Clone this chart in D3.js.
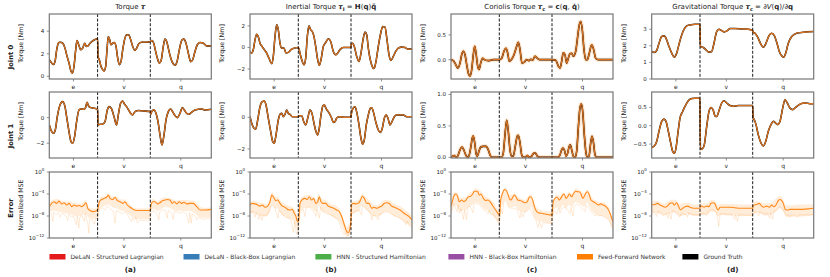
<!DOCTYPE html>
<html>
<head>
<meta charset="utf-8">
<script src="https://cdn.jsdelivr.net/npm/d3@7"></script>
<style>
  body { margin: 0; background: #fff; }
  text { font-family: "DejaVu Sans", sans-serif; fill: #222; }
</style>
</head>
<body>
<svg width="830" height="277"></svg>
<script>
// ---------------- data ----------------
// trajectory segments (sample index along the test trajectory)
const segments = ["e", "v", "q"];
const segBreaks = [0, 48.3, 101, 162];

const columnTitles = [
  [["Torque "], ["τ", "bi"]],
  [["Inertial Torque "], ["τ", "bi"], ["I", "sub"], [" = "], ["H", "b"], ["("], ["q", "b"], [")"], ["q\u0308", "b"]],
  [["Coriolis Torque "], ["τ", "bi"], ["c", "sub"], [" = "], ["c", "b"], ["("], ["q", "b"], [", "], ["q\u0307", "b"], [")"]],
  [["Gravitational Torque "], ["τ", "bi"], ["c", "sub"], [" = ∂"], ["V", "i"], ["("], ["q", "b"], [")/∂"], ["q", "b"]]
];
const rowLabels = ["Joint 0", "Joint 1", "Error"];
const yLabels = ["Torque [Nm]", "Torque [Nm]", "Normalized MSE"];
const panelLetters = ["(a)", "(b)", "(c)", "(d)"];

const legendLabels = ["DeLaN - Structured Lagrangian", "DeLaN - Black-Box Lagrangian", "HNN - Structured Hamiltonian",
  "HNN - Black-Box Hamiltonian", "Feed-Forward Network", "Ground Truth"];
const legendColors = ["#e41a1c", "#377eb8", "#4daf4a", "#984ea3", "#ff7f00", "#000000"];

// torques [t, Nm]
const tauJ0 = [[0,1.47],[2.4,1.18],[4,1.05],[5.7,1.3],[7.4,2.35],[9,2.94],[10.7,3.03],[13.4,2.94],[15.7,2.5],[17.4,1.9],[19.7,1.18],[21.7,0.44],[23,0.27],[24.7,0.88],[26.4,2.35],[27.7,3.18],[29.4,2.8],[31.4,2.35],[33.4,2.5],[35.4,2.94],[37,2.65],[38.7,2.7],[40.7,2.94],[44,3.18],[48.3,3.32],
  [48.7,1.76],[50,1.47],[51.7,0.88],[53.4,0.59],[54.7,0.47],[56.4,0.88],[57.7,2.35],[59,3.53],[60.4,3.24],[61.7,2.8],[63.4,2.94],[65,3.0],[66.7,2.65],[68.4,1.62],[70,1.03],[71.7,1.3],[73.4,2.35],[75.4,3.3],[77.4,3.68],[79.4,3.68],[81.4,3.24],[83.4,2.65],[85.4,2.3],[87.4,2.5],[89.4,2.88],[92.4,3.03],[97.4,3.03],[101,3.09],
  [102.7,3.18],[104.4,2.94],[106,2.35],[108,1.62],[110,1.18],[112,1.47],[114,2.65],[115.7,3.3],[117.4,3.09],[119,2.5],[121,1.76],[123.4,1.18],[125.7,1.0],[127.7,1.3],[130,2.35],[132.7,3.24],[134.7,3.3],[136.7,2.94],[139,2.06],[141.4,1.3],[143.4,1.47],[145.7,2.2],[148,2.8],[150.7,3.0],[154,2.94],[157.4,2.7],[162,2.7]];
const tauJ1 = [[0,-0.57],[1.7,-0.96],[4,-1.22],[6,-0.96],[8,0.08],[10.7,0.99],[13.3,1.25],[15.7,0.86],[17.3,0.08],[19.7,-1.09],[21.7,-1.87],[23.3,-2.0],[25.3,-1.48],[27.3,-0.31],[29.7,0.6],[31.7,0.68],[34,0.65],[36,0.73],[37.7,1.19],[39.3,0.91],[41.3,0.78],[44.7,0.73],[48.3,0.68],
  [48.7,-0.57],[50.7,-0.52],[53,-0.52],[55.7,-0.31],[58,0.6],[60,0.86],[62.3,0.68],[64.7,0.08],[67.3,-0.57],[69,0.21],[71.3,1.12],[73.3,1.3],[75.3,1.04],[77.3,0.86],[79.3,0.6],[81.3,0.34],[83.3,0.21],[85.7,0.47],[89,0.55],[94,0.52],[101,0.47],
  [101.4,0.26],[102.7,0.52],[104.7,0.6],[106.7,0.34],[108.7,-0.31],[110.7,-1.35],[112.7,-2.13],[114.7,-1.35],[116.7,-0.18],[119,0.47],[121.3,0.68],[123.3,0.47],[125.7,0.16],[128,0.0],[130.7,0.34],[133,0.78],[135,0.6],[137.3,0.34],[139.7,0.26],[142.3,0.42],[145.7,0.6],[149,0.65],[152.3,0.68],[155.7,0.6],[162,0.65]];
const inertJ0 = [[0,-0.37],[1.7,-0.52],[3.3,-0.2],[5,0.7],[6.7,1.23],[8.3,1.0],[10,0.4],[11.7,0.15],[14.3,-0.2],[16.7,-0.52],[19,-1.0],[21.7,-1.5],[23.3,-0.83],[25,1.0],[26.7,2.1],[28.3,1.63],[30,0.4],[31.7,-0.06],[34,-0.06],[36,-0.52],[38.3,-0.46],[41,-0.2],[44.3,-0.06],[48.3,0],
  [50,-0.52],[51.7,-1.14],[54,-1.6],[55.7,-0.98],[57.3,1.0],[59,2.0],[60.7,1.63],[62.3,1.48],[64,1.0],[65.7,0.09],[67.7,-1.14],[69.3,-1.66],[71,-1.14],[73.3,0.09],[75.7,0.46],[78.3,0.8],[80.7,0.55],[83.3,-0.37],[85.7,-0.68],[87.7,-0.52],[90,-0.2],[93.3,0],[101,0],
  [101.4,0.34],[102.7,0.4],[104.3,0.09],[106.7,-0.83],[109,-1.3],[111,-0.52],[113,0.7],[115,1.42],[116.7,1.17],[118.3,-0.06],[120.7,-1.3],[122.7,-1.85],[123.6,-1.95],[124.6,-1.85],[126,-1.3],[128.3,0.09],[130.7,1.32],[132.7,1.94],[135,1.88],[137,0.7],[139,-0.68],[141,-1.2],[143.3,-0.83],[145.7,-0.37],[148.3,-0.06],[151.7,0.03],[155,0],[157.7,-0.15],[162,-0.15]];
const inertJ1 = [[0,0.04],[1.7,-0.38],[4,-0.69],[5.7,-0.74],[7.7,-0.17],[10,0.67],[12.3,0.99],[14.3,1.03],[16,0.78],[18.3,-0.06],[20.7,-0.9],[22.7,-1.54],[24.3,-1.64],[26,-1.12],[28.3,-0.17],[30,0.19],[31.7,0.25],[33.3,0.04],[35,0.19],[36.7,0.46],[38.3,0.25],[40,0.19],[42.3,0.04],[48.3,0.04],
  [50,0.1],[51.7,0.1],[53.7,-0.27],[55.7,-0.48],[57.7,-0.06],[60,0.46],[62,0.25],[64,-0.38],[66,-0.9],[67.7,-1.12],[69.3,-0.69],[71,0.15],[73,0.74],[74.3,0.78],[76,0.57],[77.7,0.4],[79.3,0.25],[81.7,-0.06],[83.3,-0.32],[85,-0.27],[87,-0.02],[90,0.04],[95,0],[101,0],
  [101.4,0.25],[103,0.57],[105,0.67],[107,0.25],[109,-0.48],[111,-1.33],[112.7,-1.7],[114.3,-1.43],[116.3,-0.48],[118.3,0.15],[120.3,0.57],[121.7,0.61],[123.3,0.36],[125.7,-0.27],[128.3,-0.8],[130.3,-0.95],[132.3,-0.69],[134.3,-0.06],[136.3,0.15],[138,-0.06],[140,-0.48],[142,-0.27],[144.3,0.04],[146.7,0.15],[150,0.15],[153.3,0.15],[156.7,0.04],[162,0.04]];
const corJ0 = [[0,0],[2.3,-0.02],[4.7,-0.1],[6.7,-0.17],[9,-0.07],[10.7,0.1],[12.3,0.17],[14,0.1],[15.7,-0.1],[17.3,-0.27],[19,-0.33],[20.7,-0.2],[22.3,0.1],[23.7,0.27],[25,0.13],[26.7,-0.13],[28,-0.2],[29.7,-0.07],[31.7,0.03],[33.3,0],[37.3,-0.02],[42.3,0],[48.3,0],
  [50.7,0.03],[53,0.17],[55,0.23],[56.7,0.13],[58.3,-0.03],[60.3,0],[63,0.1],[65.7,0.27],[67.3,0.35],[69,0.2],[71,-0.07],[73.3,-0.05],[75.7,0],[78,-0.02],[80,0.01],[81.7,-0.01],[84,0.07],[86.3,0.03],[89,0],[101,0],
  [104.7,-0.01],[107.3,-0.13],[109,-0.17],[110.7,-0.03],[112.3,0.14],[114,0.1],[115.7,-0.07],[117.3,0.03],[119,0.12],[120.7,0.13],[122.3,0.07],[124.7,0.17],[126.7,0.47],[128.3,0.7],[129.7,0.77],[131.3,0.6],[133,0.2],[134.7,0],[136.3,0],[138.3,0.13],[140.7,0.3],[142.3,0.23],[144.7,0.03],[147.3,0],[162,0]];
const corJ1 = [[0,0],[1.7,0.02],[3.3,0.03],[5,0],[6.7,0.02],[9,0.12],[11,0.165],[13,0.11],[15,0.03],[16.7,0],[18.3,0.04],[20,0.18],[21.3,0.31],[22.3,0.34],[23.7,0.23],[25,0.07],[26.3,0.02],[28,0.1],[29.7,0.165],[32.3,0.175],[35,0.175],[37.3,0.12],[39,0.04],[40.7,0],[48.3,0],
  [50.7,0],[52.3,0.07],[54,0.36],[55.7,0.59],[57.3,0.41],[59,0.12],[60.7,0.02],[62.3,0.02],[64.3,0.18],[66.3,0.34],[67.3,0.35],[69,0.23],[70.7,0.04],[72.3,0],[74,0],[76.3,0.03],[78.3,0],[80.7,0.02],[83,0.07],[84.3,0.07],[86.3,0.02],[89,0],[101,0],
  [107.3,0],[109,0.04],[110.7,0.12],[112,0.15],[113.7,0.1],[115,0.02],[116.7,0.07],[118.3,0.18],[119.3,0.2],[120.7,0.12],[122.3,0.02],[124,0],[125.7,0.1],[127.3,0.47],[129,0.79],[130.3,0.85],[131.7,0.73],[133.3,0.36],[135,0.07],[136.3,0],[138,0.02],[139.7,0.23],[141,0.335],[142.3,0.255],[144,0.04],[145.7,0],[162,0]];
const gravJ0 = [[0,1.66],[2.6,1.6],[5,1.72],[7.3,2.16],[10,2.56],[12.6,2.6],[15,2.36],[17.3,1.96],[20,1.56],[22.6,1.32],[25,1.56],[27.6,2.16],[30,2.66],[32.6,3.02],[35,3.2],[38.3,3.26],[43.3,3.3],[48.3,3.3],
  [48.7,1.95],[51.6,1.9],[54.3,1.76],[57.3,1.62],[60,1.66],[62.3,2.16],[65,2.86],[67.3,3.0],[70,2.92],[72.6,2.84],[75.6,2.92],[78.3,3.04],[83.3,3.04],[90,3.02],[96.6,3.0],[101,2.92],
  [101.4,2.82],[103.3,2.76],[106,2.52],[109,2.12],[111.6,1.92],[114.3,2.16],[117.3,2.62],[120,2.76],[122.6,2.62],[125.3,2.16],[127.6,1.66],[130,1.4],[132,1.32],[134,1.56],[136.6,2.16],[140,2.56],[145,2.76],[151.6,2.82],[162,2.86]];
const gravJ1 = [[0,-0.59],[2.3,-0.56],[5,-0.43],[7.3,-0.15],[10,0.12],[12.3,0.18],[14.3,0.12],[16.6,-0.15],[19,-0.47],[21,-0.7],[22.6,-0.75],[24.3,-0.61],[26,-0.25],[28.3,0.21],[31,0.39],[33.3,0.53],[36.6,0.68],[40,0.74],[43.3,0.75],[48.3,0.75],
  [48.7,-0.64],[50.6,-0.63],[52.6,-0.52],[55,-0.02],[57.3,0.39],[59.3,0.5],[61.3,0.44],[63.3,0.27],[65,0.25],[67.3,0.41],[70,0.62],[72.3,0.68],[75,0.62],[78.3,0.55],[81.6,0.53],[86.6,0.55],[93.3,0.55],[101,0.55],
  [101.4,0.21],[102.3,0.18],[104.3,0.03],[106.6,-0.25],[109.3,-0.47],[111.6,-0.55],[114,-0.43],[116.6,-0.15],[119.3,0.03],[121.6,0.12],[124,0.07],[126,0.03],[128.3,0.12],[131,0.48],[133.3,0.71],[135.6,0.62],[138.3,0.48],[141,0.44],[144,0.5],[148.3,0.59],[153.3,0.62],[158.3,0.6],[162,0.6]];

// normalized MSE, log10 values: mean [t, v], band [t, lo, hi], single-run spikes [t, v]
const errMean = [
  [[0,-6.3],[2.4,-5.7],[4.7,-5.4],[7.4,-5.7],[9.7,-5.3],[12.4,-5.8],[14.7,-5.6],[17.4,-6.0],[20,-5.7],[22.4,-6.3],[24.7,-6.0],[27.4,-6.2],[30,-6.1],[32.4,-6.3],[34.7,-6.0],[36.7,-5.6],[38.4,-6.6],[40.7,-7.0],[44,-7.2],[48.3,-6.9],[50,-5.4],[52.4,-5.0],[54.7,-4.8],[57.4,-4.6],[59,-4.2],[60.7,-4.8],[63.4,-5.0],[65.7,-4.6],[68,-5.2],[70.7,-5.4],[73.4,-5.7],[75.7,-5.4],[78,-6.0],[80.7,-6.4],[84,-6.8],[87.4,-7.0],[92.4,-7.0],[101,-7.0],[101.4,-6.3],[103.4,-5.4],[105.7,-5.4],[108,-5.8],[110.7,-5.6],[113.4,-5.2],[115.7,-5.1],[118,-5.0],[120.7,-5.1],[123,-5.7],[125,-5.4],[127.4,-5.8],[130,-5.4],[132.4,-5.7],[134.7,-5.5],[137.4,-5.8],[140.7,-5.7],[144,-5.7],[147.4,-6.3],[150.7,-6.9],[155.7,-6.9],[162,-6.8]],
  [[0,-6.0],[2.3,-5.7],[5,-5.8],[7.7,-6.0],[10,-6.2],[12.3,-6.0],[15,-6.4],[17.7,-6.2],[20,-5.4],[21.7,-4.2],[23.3,-4.5],[25.7,-5.2],[27.7,-5.1],[30,-5.7],[32.3,-6.2],[35,-6.4],[37.7,-6.8],[40,-6.9],[42.3,-6.8],[44.3,-7.5],[46,-8.1],[47.3,-9.0],[48.3,-9.0],[48.7,-8.7],[50,-5.7],[52.3,-5.0],[55,-4.8],[57.3,-5.0],[59.3,-4.5],[61.7,-5.1],[63.7,-4.8],[65.7,-5.7],[67.7,-5.4],[69.3,-4.5],[71,-5.4],[73.3,-5.7],[75.7,-5.7],[78.3,-6.2],[81,-6.4],[83.7,-6.6],[86.7,-6.9],[89.3,-7.2],[91.7,-8.1],[94.3,-9.6],[96.7,-10.8],[98.3,-11.0],[100,-10.2],[101,-8.7],[101.4,-6.0],[103.3,-5.7],[105.7,-5.8],[108.3,-5.7],[110.3,-5.2],[112.3,-4.4],[114.3,-4.8],[116.7,-5.7],[119,-5.7],[121.7,-6.6],[124,-6.4],[126.7,-6.6],[129,-6.4],[131.7,-6.2],[134.3,-5.7],[136.7,-5.6],[139,-5.7],[141.7,-6.2],[144.3,-6.4],[146.7,-6.6],[150,-6.9],[153.3,-7.4],[156.7,-7.8],[159,-8.1],[162,-8.7]],
  [[0,-6.3],[1.7,-5.1],[3.3,-4.2],[5,-4.0],[6.7,-4.5],[8.3,-5.4],[10.7,-5.1],[13,-5.4],[15,-5.1],[17.3,-4.5],[19.7,-4.4],[21.7,-4.0],[23.3,-3.5],[25,-3.5],[26.7,-3.6],[28.3,-4.2],[30,-4.0],[32.3,-4.8],[35,-5.2],[36.7,-5.1],[39,-5.4],[41.3,-6.0],[43.3,-6.6],[45.7,-7.2],[47.3,-7.6],[48.3,-7.8],[48.7,-7.6],[49.7,-5.1],[51.7,-3.8],[53.3,-3.2],[55,-3.3],[56.7,-3.9],[58.3,-4.8],[60,-5.1],[61.7,-4.6],[63.3,-4.2],[65,-4.5],[66.7,-5.1],[69,-5.2],[71.7,-5.4],[74,-5.6],[76.3,-5.4],[78.3,-4.6],[80,-4.5],[81.7,-5.1],[83.3,-6.2],[85,-7.0],[87.3,-7.4],[89.7,-7.5],[92.3,-7.6],[95.7,-7.7],[98.3,-7.8],[101,-7.8],[101.4,-6.9],[102.3,-5.4],[104,-4.8],[106.3,-4.6],[108.3,-5.1],[109.7,-4.8],[111.7,-4.2],[113.3,-4.0],[115,-4.8],[116.7,-4.5],[118.3,-4.0],[120.7,-4.5],[122.3,-4.0],[124.7,-3.5],[126.7,-3.6],[128.3,-3.6],[130,-4.0],[131.7,-4.8],[133.3,-4.4],[135,-3.8],[136.7,-3.6],[138.3,-4.2],[140,-5.1],[142.3,-5.4],[145,-5.7],[147.3,-6.0],[149.7,-5.8],[152.3,-6.0],[155,-6.3],[157.3,-6.8],[159,-7.5],[160.7,-8.4],[162,-9.0]],
  [[0,-6.0],[3.3,-5.9],[5.6,-5.7],[8.3,-6.0],[10.6,-6.2],[13.3,-6.4],[15.6,-6.2],[18.3,-5.7],[20.6,-5.6],[22.6,-6.0],[25,-5.6],[27,-6.3],[29,-6.9],[31,-6.6],[33.3,-6.3],[36,-6.2],[38.3,-6.4],[41.6,-6.6],[48.3,-6.6],[48.7,-6.3],[50,-6.2],[52.3,-6.4],[55,-6.2],[57.3,-6.3],[59.3,-5.7],[61.6,-5.6],[63.3,-5.8],[65,-6.6],[66.6,-6.9],[68.3,-6.4],[71.6,-6.4],[78.3,-6.4],[83.3,-6.5],[88.3,-6.6],[101,-6.6],[101.4,-6.3],[102.3,-6.0],[105,-5.9],[107.6,-5.7],[110,-6.2],[112.3,-6.4],[115,-6.2],[117.6,-6.4],[120,-6.0],[122.3,-6.3],[124.3,-6.0],[126.6,-5.2],[128.3,-5.0],[130,-5.2],[131.6,-5.7],[133.6,-6.8],[136,-6.9],[138.3,-6.8],[146.6,-6.8],[156.6,-6.7],[162,-6.6]]
];
const errBand = [
  [[0,-7.4,-5.8],[4,-7.0,-5.0],[8,-7.2,-4.9],[12,-7.3,-5.2],[16,-7.5,-5.4],[20,-7.6,-5.3],[24,-7.9,-5.6],[28,-8.0,-5.7],[32,-8.0,-5.8],[36,-7.6,-5.2],[40,-8.4,-6.5],[44,-8.6,-6.7],[48.3,-8.3,-6.5],[48.7,-8.0,-6.4],[51,-6.6,-4.6],[55,-6.2,-4.4],[59,-5.9,-3.9],[63,-6.4,-4.5],[67,-6.6,-4.4],[71,-7.0,-5.0],[75,-7.1,-5.0],[79,-7.6,-5.6],[83,-8.2,-6.3],[87,-8.5,-6.6],[92,-8.6,-6.6],[101,-8.6,-6.6],[101.4,-7.6,-5.9],[104,-6.7,-4.9],[108,-7.1,-5.3],[112,-6.7,-4.8],[116,-6.3,-4.6],[120,-6.5,-4.7],[124,-6.9,-5.0],[128,-7.1,-5.2],[132,-7.0,-5.1],[136,-7.1,-5.1],[140,-7.1,-5.2],[144,-7.3,-5.2],[148,-7.9,-5.8],[152,-8.3,-6.4],[156,-8.3,-6.5],[162,-8.2,-6.4]],
  [[0,-7.6,-5.6],[4,-7.4,-5.2],[8,-7.8,-5.5],[12,-8.0,-5.6],[16,-8.1,-5.8],[20,-7.2,-4.9],[22,-5.8,-3.6],[25,-6.6,-4.4],[28,-6.7,-4.6],[31,-7.6,-5.3],[35,-8.1,-5.8],[39,-8.5,-6.2],[42,-8.7,-6.3],[45,-9.6,-7.0],[48.3,-10.8,-8.2],[48.7,-10.2,-8.0],[50,-7.4,-5.1],[54,-6.6,-4.3],[58,-6.4,-4.2],[62,-6.6,-4.4],[66,-7.2,-5.0],[69,-6.2,-4.0],[72,-7.1,-4.9],[76,-7.4,-5.1],[80,-7.8,-5.8],[84,-8.3,-6.0],[88,-8.7,-6.4],[91,-9.5,-7.3],[94,-10.9,-8.8],[97,-11.8,-10.0],[99,-11.6,-9.6],[101,-10.2,-8.0],[101.4,-7.8,-5.4],[105,-7.4,-5.3],[109,-7.0,-5.0],[112,-6.0,-3.9],[115,-6.6,-4.4],[119,-7.3,-5.1],[123,-8.0,-5.9],[127,-8.1,-6.0],[131,-7.8,-5.6],[135,-7.2,-5.1],[139,-7.3,-5.1],[143,-7.9,-5.7],[147,-8.2,-6.0],[151,-8.6,-6.3],[155,-9.2,-6.9],[159,-9.6,-7.4],[162,-10.0,-8.0]],
  [[0,-7.8,-5.8],[3,-6.0,-3.7],[6,-6.2,-3.7],[9,-7.1,-4.7],[12,-7.0,-4.7],[15,-6.8,-4.6],[18,-6.3,-3.9],[21,-6.0,-3.6],[24,-5.5,-3.0],[27,-5.6,-3.1],[30,-6.0,-3.5],[33,-6.7,-4.2],[36,-7.0,-4.6],[39,-7.3,-4.9],[42,-7.9,-5.4],[45,-8.6,-6.3],[48.3,-9.4,-7.2],[48.7,-9.2,-7.0],[50,-7.0,-4.6],[52,-5.8,-3.3],[55,-5.1,-2.8],[58,-6.4,-4.2],[61,-6.4,-4.1],[64,-6.2,-3.9],[67,-6.9,-4.6],[71,-7.2,-4.9],[74,-7.4,-5.1],[77,-6.8,-4.4],[80,-6.4,-4.0],[83,-8.0,-5.6],[86,-8.8,-6.5],[90,-9.0,-6.9],[95,-9.2,-7.1],[101,-9.3,-7.2],[101.4,-8.6,-6.3],[103,-7.0,-4.9],[106,-6.4,-4.1],[109,-6.8,-4.4],[112,-6.0,-3.7],[115,-6.6,-4.3],[118,-6.0,-3.6],[121,-6.4,-4.0],[124,-5.5,-3.0],[127,-5.6,-3.1],[130,-6.0,-3.5],[133,-6.3,-3.9],[136,-5.6,-3.2],[139,-6.5,-3.9],[142,-7.3,-4.9],[145,-7.6,-5.2],[148,-7.9,-5.5],[152,-8.0,-5.5],[155,-8.3,-5.8],[158,-8.9,-6.4],[160,-9.8,-7.7],[162,-10.4,-8.4]],
  [[0,-7.6,-5.3],[4,-7.4,-5.2],[8,-7.6,-5.4],[12,-7.9,-5.7],[16,-7.7,-5.4],[20,-7.3,-5.0],[24,-7.5,-5.1],[28,-8.0,-5.8],[32,-7.9,-5.7],[36,-7.7,-5.6],[40,-7.9,-5.8],[44,-8.0,-5.9],[48.3,-8.0,-5.9],[48.7,-7.8,-5.7],[52,-7.8,-5.7],[56,-7.7,-5.6],[60,-7.2,-5.0],[63,-7.3,-5.2],[66,-8.0,-6.0],[70,-7.8,-5.8],[76,-7.9,-5.8],[82,-7.9,-5.8],[88,-8.0,-5.9],[94,-8.0,-5.9],[101,-8.0,-5.9],[101.4,-7.8,-5.6],[105,-7.4,-5.3],[109,-7.6,-5.5],[113,-7.9,-5.7],[117,-7.8,-5.7],[121,-7.6,-5.5],[125,-7.1,-4.7],[128,-6.6,-4.3],[131,-7.0,-4.8],[134,-8.0,-6.0],[138,-8.2,-6.1],[143,-8.1,-6.0],[150,-8.1,-5.9],[156,-8.0,-5.9],[162,-7.9,-5.8]]
];
const errSpike = [
  [[0,-7.2],[2,-7.6],[3.5,-9.0],[4.5,-7.3],[7,-7.8],[9,-7.4],[11,-8.2],[13,-7.5],[16,-7.8],[18.5,-8.8],[19.5,-7.6],[22,-8.2],[24,-8.0],[27,-9.6],[28,-8.0],[29.5,-10.2],[30.5,-8.2],[33,-8.0],[35,-9.0],[36,-7.5],[38.5,-9.3],[39.5,-11.1],[40.5,-8.6],[43,-8.8],[45,-9.5],[46.5,-8.5],[48.3,-8.4],[48.7,-8.2],[50,-6.8],[53,-6.5],[56,-6.9],[58,-6.2],[61,-6.7],[64,-7.2],[65.7,-9.3],[67,-7.0],[70,-7.3],[73,-7.6],[76,-7.2],[79,-8.0],[82,-9.0],[83,-8.3],[85,-8.8],[86.5,-8.2],[88,-9.2],[90,-8.8],[94,-8.8],[98,-8.9],[101,-8.7],[101.4,-7.8],[104,-7.0],[107,-7.4],[109.5,-8.7],[110.5,-7.2],[113,-6.9],[116,-7.0],[118,-8.4],[119,-6.9],[122,-7.4],[124,-8.6],[125,-7.2],[128,-7.3],[131,-7.5],[134,-7.2],[137,-7.6],[139.5,-9.3],[140.5,-7.4],[142,-9.3],[143,-7.6],[146,-8.0],[147.5,-8.7],[149,-8.2],[153,-8.6],[158,-8.5],[162,-8.4]],
  [[0,-7.3],[3,-7.2],[5,-8.2],[6,-7.3],[9,-8.6],[10,-7.6],[12,-8.8],[13,-7.8],[16,-8.0],[19,-7.2],[22,-5.9],[25,-6.6],[28,-8.4],[29,-6.9],[32,-7.6],[35,-8.2],[38,-8.3],[41,-8.8],[43.5,-11.0],[44.5,-9.0],[46.5,-11.3],[48.3,-10.5],[48.7,-10.0],[50,-7.2],[53,-6.8],[55,-8.1],[56,-6.5],[59,-6.3],[62,-6.8],[65,-7.6],[66,-8.1],[67,-6.8],[69.5,-8.4],[70.5,-6.4],[73,-7.2],[77,-7.6],[81,-7.8],[85,-8.2],[89,-8.9],[92,-10.8],[94,-11.4],[96,-11.0],[98,-11.6],[101,-10.0],[101.4,-7.6],[105,-7.2],[109,-6.9],[111.5,-7.8],[112.5,-6.0],[116,-6.7],[120,-7.3],[122,-8.7],[123,-7.8],[126,-8.0],[128,-8.7],[129,-7.8],[133,-7.4],[137,-7.2],[141,-7.6],[145,-8.0],[150,-8.4],[154,-9.0],[156,-9.6],[157,-8.9],[159.5,-9.8],[162,-10.2]],
  [[0,-7.6],[3,-5.8],[6,-7.2],[7,-6.0],[8.5,-7.5],[10,-6.7],[12.5,-8.6],[13.5,-6.9],[15.5,-8.7],[16.5,-6.5],[19,-6.2],[22,-7.4],[23,-5.7],[26,-5.7],[29,-6.0],[32,-6.8],[35,-7.2],[37,-7.6],[38,-7.0],[40,-7.8],[42,-7.6],[45,-8.4],[46.5,-8.9],[48.3,-9.2],[48.7,-9.0],[50,-6.8],[51.5,-7.6],[52.5,-5.6],[55,-5.2],[58,-6.5],[62,-6.6],[66,-6.8],[69,-8.4],[70,-7.1],[72,-8.2],[73,-7.4],[76,-7.0],[79,-6.6],[82,-7.8],[85,-8.8],[87,-10.1],[88.5,-9.0],[90.5,-10.2],[92,-9.2],[96,-9.3],[101,-9.4],[101.4,-8.4],[103,-7.0],[106,-7.6],[107.5,-6.6],[109,-7.5],[110,-6.9],[113,-6.4],[116,-6.7],[119,-7.6],[120,-6.4],[122,-8.0],[123,-6.3],[126,-5.8],[129,-6.2],[134,-7.2],[135,-6.0],[138,-6.6],[141,-7.4],[144,-8.0],[145,-7.6],[147,-8.0],[150,-7.9],[154,-8.2],[157,-8.6],[159,-9.0],[160.5,-9.6],[162,-10.4]],
  [[0,-7.0],[3,-7.4],[5,-8.1],[6,-7.1],[9,-7.4],[12,-7.9],[15,-7.5],[16.5,-8.4],[17.5,-7.3],[19.5,-8.6],[20.5,-7.0],[23,-7.2],[26,-7.6],[28,-8.2],[29,-7.6],[32,-7.6],[35,-7.8],[36,-8.2],[37,-7.4],[40,-7.7],[44,-7.8],[48.3,-7.8],[48.7,-7.6],[52,-7.5],[55,-7.9],[56,-7.3],[59,-6.8],[62,-6.9],[65,-7.4],[67,-9.9],[68.5,-7.6],[72,-7.6],[76,-7.7],[80,-7.7],[83,-8.6],[84,-7.8],[86,-9.0],[87,-7.8],[92,-7.8],[96,-7.9],[101,-7.8],[101.4,-7.5],[104,-7.2],[107,-8.0],[108,-7.2],[112,-7.6],[116,-7.6],[118,-8.4],[119,-7.4],[121,-8.6],[122,-7.2],[125,-6.8],[128,-6.3],[131,-6.7],[135,-8.1],[136,-7.7],[138,-8.2],[139,-7.8],[143,-7.8],[146,-8.3],[147,-7.8],[152,-7.8],[157,-7.8],[162,-7.7]]
];

// axis limits and ticks per column [joint0, joint1]
const torqueData = [[tauJ0, tauJ1], [inertJ0, inertJ1], [corJ0, corJ1], [gravJ0, gravJ1]];
const torqueDomains = [[[-0.24, 5.53], [-3.15, 2.0]], [[-2.92, 3.1], [-2.57, 1.6]],
  [[-0.39, 0.92], [-0.01, 1.04]], [[0, 3.92], [-0.88, 0.92]]];
const torqueTicks = [[[0, 2, 4], [-2, 0]], [[-2, 0, 2], [-2, 0]], [[0, 0.5], [0, 0.5, 1]], [[0, 1, 2, 3], [-0.5, 0, 0.5]]];
const errExponents = [0, -4, -8, -12];

// ---------------- layout ----------------
const svg = d3.select("svg");
const colLeft = [49.3, 250, 451, 651.7];
const plotW = 162;
const rowBox = [[14, 79], [92, 158], [172, 238]];
const rowLabelY = [57, 136, 208];
const yLabelY = [43.5, 121.5, 205];
const legendX = [49.5, 183.5, 315.4, 448.4, 577, 682.4];

const frameColor = "#777";
const torqueColor = "#d9711e";
const errColor = "#ff8a1c";

const x = d3.scaleLinear().domain([segBreaks[0], segBreaks[3]]).range([0, plotW]);

// append text made of styled parts (bold / italic / subscript)
function richText(sel, parts) {
  let shift = 0;
  parts.forEach(p => {
    const style = p[1] || "";
    const ts = sel.append("tspan").text(p[0]);
    if (style.includes("b")) ts.attr("font-weight", "bold");
    if (style.includes("i")) ts.attr("font-style", "italic");
    if (style === "sub") {
      ts.attr("dy", 1.8 - shift).attr("font-size", "5px");
      shift = 1.8;
    } else if (shift) {
      ts.attr("dy", -shift);
      shift = 0;
    }
  });
}

function makePanel(c, r) {
  const [top, bottom] = rowBox[r];
  const h = bottom - top;
  const g = svg.append("g").attr("transform", `translate(${colLeft[c]},${top})`);
  const clipId = `clip-${c}-${r}`;
  g.append("clipPath").attr("id", clipId)
    .append("rect").attr("width", plotW).attr("height", h);
  const body = g.append("g").attr("clip-path", `url(#${clipId})`);
  return { g, body, h };
}

function finishPanel(g, h, y, ticks, labelFn) {
  // segment separators
  g.selectAll(".sep")
    .data(segBreaks.slice(1, 3))
    .join("line")
    .attr("x1", d => x(d)).attr("x2", d => x(d))
    .attr("y1", 0).attr("y2", h)
    .attr("stroke", "#000").attr("stroke-width", 0.9)
    .attr("stroke-dasharray", "3,1.6");

  g.append("rect")
    .attr("width", plotW).attr("height", h)
    .attr("fill", "none").attr("stroke", frameColor).attr("stroke-width", 1.2);

  // x ticks at segment centres
  const centres = segments.map((s, i) => [s, (segBreaks[i] + segBreaks[i + 1]) / 2]);
  g.selectAll(".xt").data(centres).join("line")
    .attr("x1", d => x(d[1])).attr("x2", d => x(d[1]))
    .attr("y1", h).attr("y2", h + 2.5)
    .attr("stroke", frameColor).attr("stroke-width", 0.8);
  g.selectAll(".xl").data(centres).join("text")
    .attr("x", d => x(d[1])).attr("y", h + 10.3)
    .attr("text-anchor", "middle").style("font-size", "6px")
    .text(d => d[0]);

  // y ticks
  g.selectAll(".yt").data(ticks).join("line")
    .attr("x1", -2.5).attr("x2", 0)
    .attr("y1", d => y(d)).attr("y2", d => y(d))
    .attr("stroke", frameColor).attr("stroke-width", 0.8);
  g.selectAll(".yl").data(ticks).join("text")
    .attr("x", -5).attr("y", d => y(d)).attr("dy", "0.35em")
    .attr("text-anchor", "end").style("font-size", "5.5px")
    .each(function (d) { labelFn(d3.select(this), d); });
}

// ---------------- torque rows ----------------
for (let c = 0; c < 4; c++) {
  for (let r = 0; r < 2; r++) {
    const { g, body, h } = makePanel(c, r);
    const y = d3.scaleLinear().domain(torqueDomains[c][r]).range([h, 0]);
    const line = d3.line()
      .x(d => x(d[0]))
      .y(d => y(d[1]))
      .curve(d3.curveMonotoneX);
    const data = torqueData[c][r];

    if (c === 2) {
      // spread of the feed-forward runs is only visible at this scale
      body.append("path").attr("d", line(data))
        .attr("fill", "none").attr("stroke", "#ff7f00")
        .attr("stroke-opacity", 0.22).attr("stroke-width", 4);
    }
    // ground truth underneath
    body.append("path").attr("d", line(data))
      .attr("fill", "none").attr("stroke", "#000").attr("stroke-width", 1.55);
    body.append("path").attr("d", line(data))
      .attr("fill", "none").attr("stroke", torqueColor).attr("stroke-width", 1.3);

    const ticks = torqueTicks[c][r];
    const fmt = ticks.every(Number.isInteger) ? d3.format("d") : d3.format(".1f");
    finishPanel(g, h, y, ticks, (sel, d) => sel.text(fmt(d)));
  }
}

// ---------------- error row ----------------
for (let c = 0; c < 4; c++) {
  const { g, body, h } = makePanel(c, 2);
  const y = d3.scaleLog().domain([1e-12, 1]).range([h, 0]);

  const area = d3.area()
    .x(d => x(d[0]))
    .y0(d => y(10 ** d[1]))
    .y1(d => y(10 ** d[2]))
    .curve(d3.curveMonotoneX);
  body.append("path").attr("d", area(errBand[c]))
    .attr("fill", "#ff7f00").attr("fill-opacity", 0.15);

  const spikeLine = d3.line().x(d => x(d[0])).y(d => y(10 ** d[1]));
  body.append("path").attr("d", spikeLine(errSpike[c]))
    .attr("fill", "none").attr("stroke", "#ff7f00")
    .attr("stroke-opacity", 0.28).attr("stroke-width", 0.6);

  const meanLine = d3.line().x(d => x(d[0])).y(d => y(10 ** d[1])).curve(d3.curveMonotoneX);
  body.append("path").attr("d", meanLine(errMean[c]))
    .attr("fill", "none").attr("stroke", errColor).attr("stroke-width", 1.1);

  finishPanel(g, h, y, errExponents.map(e => 10 ** e), (sel, d) => {
    sel.append("tspan").text("10");
    sel.append("tspan").attr("dy", -2.6).style("font-size", "4px")
      .text(d3.format("d")(Math.round(Math.log10(d))));
  });
}

// ---------------- titles and labels ----------------
columnTitles.forEach((parts, c) => {
  const t = svg.append("text")
    .attr("x", colLeft[c] + plotW / 2).attr("y", 9.3)
    .attr("text-anchor", "middle").style("font-size", "7px");
  richText(t, parts);
});

rowLabels.forEach((lab, r) => {
  svg.append("text")
    .attr("transform", `translate(12.5,${rowLabelY[r]}) rotate(-90)`)
    .attr("text-anchor", "middle")
    .style("font-size", "6.8px").style("font-weight", "bold")
    .text(lab);
});

for (let c = 0; c < 4; c++) {
  yLabels.forEach((lab, r) => {
    svg.append("text")
      .attr("transform", `translate(${colLeft[c] - 26},${yLabelY[r]}) rotate(-90)`)
      .attr("text-anchor", "middle").style("font-size", "6.3px")
      .text(lab);
  });
}

// legend
const legend = svg.append("g");
const items = legend.selectAll(".legend-item")
  .data(legendLabels)
  .join("g")
  .attr("transform", (d, i) => `translate(${legendX[i]},254)`);
items.append("rect")
  .attr("width", 16).attr("height", 5.5)
  .attr("fill", (d, i) => legendColors[i]);
items.append("text")
  .attr("x", 21).attr("y", 5.3)
  .style("font-size", "6px").style("fill", "#333")
  .text(d => d);

panelLetters.forEach((lab, c) => {
  svg.append("text")
    .attr("x", colLeft[c] + plotW / 2).attr("y", 272.3)
    .attr("text-anchor", "middle")
    .style("font-size", "7px").style("font-weight", "bold")
    .text(lab);
});
</script>
</body>
</html>
